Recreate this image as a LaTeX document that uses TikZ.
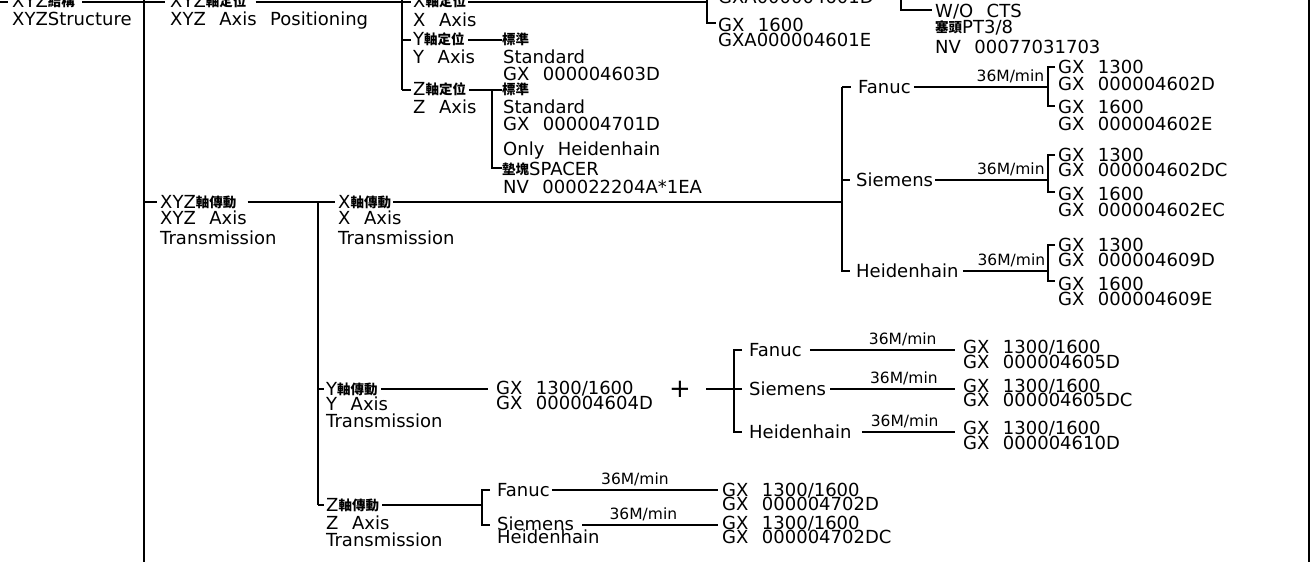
\documentclass[tikz,border=0pt]{standalone}
\usepackage{fontspec}
\setmainfont{DejaVu Sans}
\newfontfamily\cjkf{Noto Sans CJK TC}
\newcommand{\zh}[1]{{\cjkf\bfseries\fontsize{13.5}{13.5}\selectfont\raisebox{0.6pt}{#1}}}
\newcommand{\wgap}{\hspace{0.75em}}
\tikzset{
  ln/.style={line width=1.7pt},
  tx/.style={anchor=base west, inner sep=0pt, font=\fontsize{18}{18}\selectfont},
  spd/.style={anchor=base, inner sep=0pt, font=\fontsize{15.5}{15.5}\selectfont},
  pls/.style={anchor=center, inner sep=0pt, font=\fontsize{26}{26}\selectfont},
}
\begin{document}
\begin{tikzpicture}[x=1pt,y=-1pt]
\useasboundingbox (0,0) rectangle (1315,562);
% spines
\coordinate (A0) at (144,0); \coordinate (A1) at (144,562);
\draw[ln] (A0) -- (A1);
\coordinate (R0) at (1309,0); \coordinate (R1) at (1309,562);
\draw[ln,line width=2pt] (R0) -- (R1);
% root
\node[tx] (s1) at (12,7) {XYZ\zh{結構}};
\node[tx] (s2) at (12,25) {XYZStructure};
\coordinate (e0) at (0,2);
\draw[ln] (e0) -- ([xshift=-4pt]e0 -| s1.west);
\draw[ln] ([xshift=7pt]e0 -| s1.east) -- (e0 -| A0);
% XYZ positioning
\coordinate (jP) at (144,2);
\node[tx] (p1) at (170,7) {XYZ\zh{軸定位}};
\node[tx] (p2) at (170,25) {XYZ\wgap Axis\wgap Positioning};
\coordinate (B0) at (402,0); \coordinate (B1) at (402,90);
\draw[ln] (jP) -- ([xshift=-5pt]jP -| p1.west);
\draw[ln] ([xshift=9pt]jP -| p1.east) -- (jP -| B0);
\draw[ln] (B0) -- (B1);
% X positioning
\coordinate (jX) at (402,2);
\node[tx] (x1) at (413,7) {X\zh{軸定位}};
\node[tx] (x2) at (413,26) {X\wgap Axis};
\coordinate (C0) at (707,0); \coordinate (C1) at (707,23);
\draw[ln] (jX) -- ([xshift=-2pt]jX -| x1.west);
\draw[ln] ([xshift=2pt]jX -| x1.east) -- (jX -| C0);
\node[tx] (c0) at (718,4) {GXA000004601D};
\node[tx] (c1) at (718,31) {GX\wgap 1600};
\node[tx] (c2) at (718,46) {GXA000004601E};
\draw[ln] (C0) -- (C1) -- ([xshift=-2pt]C1 -| c1.west);
\coordinate (D0) at (901,0); \coordinate (D1) at (901,10);
\node[tx] (d1) at (935,17) {W/O\wgap CTS};
\node[tx] (d2) at (935,33) {\zh{塞頭}PT3/8};
\node[tx] (d3) at (935,53) {NV\wgap 00077031703};
\draw[ln] (D0) -- (D1) -- ([xshift=-3pt]D1 -| d1.west);
% Y positioning
\coordinate (jY) at (402,40);
\node[tx] (y1) at (413,45) {Y\zh{軸定位}};
\node[tx] (y2) at (413,63) {Y\wgap Axis};
\node[tx] (ys1) at (502,45) {\zh{標準}};
\node[tx] (ys2) at (503,63) {Standard};
\node[tx] (ys3) at (503,80) {GX\wgap 000004603D};
\draw[ln] (jY) -- ([xshift=-2pt]jY -| y1.west);
\draw[ln] ([xshift=3pt]jY -| y1.east) -- (jY -| ys1.west);
% Z positioning
\node[tx] (z1) at (413,95) {Z\zh{軸定位}};
\node[tx] (z2) at (413,113) {Z\wgap Axis};
\node[tx] (zs1) at (502,95) {\zh{標準}};
\node[tx] (zs2) at (503,113) {Standard};
\node[tx] (zs3) at (503,130) {GX\wgap 000004701D};
\node[tx] (zs4) at (503,155) {Only\wgap Heidenhain};
\node[tx] (zs5) at (502,175) {\zh{墊塊}SPACER};
\node[tx] (zs6) at (503,193) {NV\wgap 000022204A*1EA};
\coordinate (E0) at (492,90); \coordinate (E1) at (492,168);
\draw[ln] (B1) -- ([xshift=-2pt]B1 -| z1.west);
\draw[ln] ([xshift=3pt]B1 -| z1.east) -- (B1 -| zs1.west);
\draw[ln] (E0) -- (E1) -- (E1 -| zs5.west);
% XYZ transmission
\coordinate (jT) at (144,202);
\node[tx] (t1) at (160,208) {XYZ\zh{軸傳動}};
\node[tx] (t2) at (160,224) {XYZ\wgap Axis};
\node[tx] (t3) at (160,244) {Transmission};
\coordinate (F0) at (318,202); \coordinate (F1) at (318,505);
\draw[ln] (jT) -- ([xshift=-3pt]jT -| t1.west);
\draw[ln] ([xshift=11pt]jT -| t1.east) -- (F0);
\draw[ln] (F0) -- (F1);
% X transmission
\node[tx] (xt1) at (338,208) {X\zh{軸傳動}};
\node[tx] (xt2) at (338,224) {X\wgap Axis};
\node[tx] (xt3) at (338,244) {Transmission};
\coordinate (G0) at (842,87); \coordinate (G1) at (842,180); \coordinate (G2) at (842,271);
\draw[ln] (F0) -- ([xshift=-3pt]F0 -| xt1.west);
\draw[ln] ([xshift=2pt]F0 -| xt1.east) -- (F0 -| G0);
% Fanuc (X)
\node[tx] (xf) at (858,93) {Fanuc};
\node[tx] (xfa) at (1058,73) {GX\wgap 1300};
\node[tx] (xfb) at (1058,90) {GX\wgap 000004602D};
\node[tx] (xfc) at (1058,113) {GX\wgap 1600};
\node[tx] (xfd) at (1058,130) {GX\wgap 000004602E};
\coordinate (H0) at (1048,67); \coordinate (H1) at (1048,106);
\draw[ln] (G0) -- ([xshift=-7pt]G0 -| xf.west);
\draw[ln] ([xshift=3pt]G0 -| xf.east) -- (G0 -| H0) node[spd,pos=0.72,above=3pt] (xfs) {36M/min};
\draw[ln] ([xshift=-3pt]H0 -| xfa.west) -- (H0) -- (H1) -- ([xshift=-3pt]H1 -| xfc.west);
% Siemens (X)
\node[tx] (xs) at (856,186) {Siemens};
\node[tx] (xsa) at (1058,161) {GX\wgap 1300};
\node[tx] (xsb) at (1058,176) {GX\wgap 000004602DC};
\node[tx] (xsc) at (1058,200) {GX\wgap 1600};
\node[tx] (xsd) at (1058,216) {GX\wgap 000004602EC};
\coordinate (K0) at (1048,155); \coordinate (K1) at (1048,192);
\draw[ln] (G1) -- ([xshift=-6pt]G1 -| xs.west);
\draw[ln] ([xshift=2pt]G1 -| xs.east) -- (G1 -| K0) node[spd,pos=0.67,above=3pt] (xss) {36M/min};
\draw[ln] ([xshift=-3pt]K0 -| xsa.west) -- (K0) -- (K1) -- ([xshift=-3pt]K1 -| xsc.west);
% Heidenhain (X)
\node[tx] (xh) at (856,277) {Heidenhain};
\node[tx] (xha) at (1058,251) {GX\wgap 1300};
\node[tx] (xhb) at (1058,266) {GX\wgap 000004609D};
\node[tx] (xhc) at (1058,290) {GX\wgap 1600};
\node[tx] (xhd) at (1058,305) {GX\wgap 000004609E};
\coordinate (M0) at (1048,245); \coordinate (M1) at (1048,281);
\draw[ln] (G0) -- (G2) -- ([xshift=-6pt]G2 -| xh.west);
\draw[ln] ([xshift=4pt]G2 -| xh.east) -- (G2 -| M0) node[spd,pos=0.57,above=3pt] (xhs) {36M/min};
\draw[ln] ([xshift=-3pt]M0 -| xha.west) -- (M0) -- (M1) -- ([xshift=-3pt]M1 -| xhc.west);
% Y transmission
\coordinate (jYT) at (318,389);
\node[tx] (yt1) at (326,395) {Y\zh{軸傳動}};
\node[tx] (yt2) at (326,410) {Y\wgap Axis};
\node[tx] (yt3) at (326,427) {Transmission};
\node[tx] (yg1) at (496,394) {GX\wgap 1300/1600};
\node[tx] (yg2) at (496,409) {GX\wgap 000004604D};
\node[pls] (pl) at (680,389) {+};
\coordinate (I0) at (734,350); \coordinate (I1) at (734,389); \coordinate (I2) at (734,432);
\draw[ln] (jYT) -- ([xshift=-2pt]jYT -| yt1.west);
\draw[ln] ([xshift=3pt]jYT -| yt1.east) -- ([xshift=-8pt]jYT -| yg1.west);
\draw[ln] ([xshift=15pt]I1 -| pl.east) -- (I1);
\draw[ln] ([xshift=8pt]I0) -- (I0) -- (I2) -- ([xshift=8pt]I2);
\draw[ln] (I1) -- ([xshift=8pt]I1);
\node[tx] (yf) at (749,356) {Fanuc};
\node[tx] (ys) at (749,395) {Siemens};
\node[tx] (yh) at (749,438) {Heidenhain};
\node[tx] (yfa) at (963,353) {GX\wgap 1300/1600};
\node[tx] (yfb) at (963,368) {GX\wgap 000004605D};
\node[tx] (ysa) at (963,392) {GX\wgap 1300/1600};
\node[tx] (ysb) at (963,406) {GX\wgap 000004605DC};
\node[tx] (yha) at (963,434) {GX\wgap 1300/1600};
\node[tx] (yhb) at (963,449) {GX\wgap 000004610D};
\draw[ln] ([xshift=8pt]I0 -| yf.east) -- ([xshift=-8pt]I0 -| yfa.west) node[spd,pos=0.64,above=3pt] (yfs) {36M/min};
\draw[ln] ([xshift=4pt]I1 -| ys.east) -- ([xshift=-8pt]I1 -| ysa.west) node[spd,pos=0.59,above=3pt] (yss) {36M/min};
\draw[ln] ([xshift=10pt]I2 -| yh.east) -- ([xshift=-8pt]I2 -| yha.west) node[spd,pos=0.46,above=3pt] (yhs) {36M/min};
% Z transmission
\node[tx] (zt1) at (326,511) {Z\zh{軸傳動}};
\node[tx] (zt2) at (326,529) {Z\wgap Axis};
\node[tx] (zt3) at (326,546) {Transmission};
\coordinate (N0) at (482,490); \coordinate (N1) at (482,525);
\draw[ln] (F1) -- ([xshift=-2pt]F1 -| zt1.west);
\draw[ln] ([xshift=3pt]F1 -| zt1.east) -- (F1 -| N0);
\node[tx] (zf) at (497,496) {Fanuc};
\node[tx] (zs) at (497,530) {Siemens};
\node[tx] (zh) at (497,543) {Heidenhain};
\node[tx] (zfa) at (722,496) {GX\wgap 1300/1600};
\node[tx] (zfb) at (722,510) {GX\wgap 000004702D};
\node[tx] (zsa) at (722,529) {GX\wgap 1300/1600};
\node[tx] (zsb) at (722,543) {GX\wgap 000004702DC};
\draw[ln] ([xshift=-7pt]N0 -| zf.west) -- (N0) -- (N1) -- ([xshift=-7pt]N1 -| zs.west);
\draw[ln] ([xshift=2pt]N0 -| zf.east) -- ([xshift=-4pt]N0 -| zfa.west) node[spd,pos=0.5,above=3pt] (zfs) {36M/min};
\draw[ln] ([xshift=8pt]N1 -| zs.east) -- ([xshift=-4pt]N1 -| zsa.west) node[spd,pos=0.45,above=3pt] (zss) {36M/min};
\end{tikzpicture}
\end{document}
